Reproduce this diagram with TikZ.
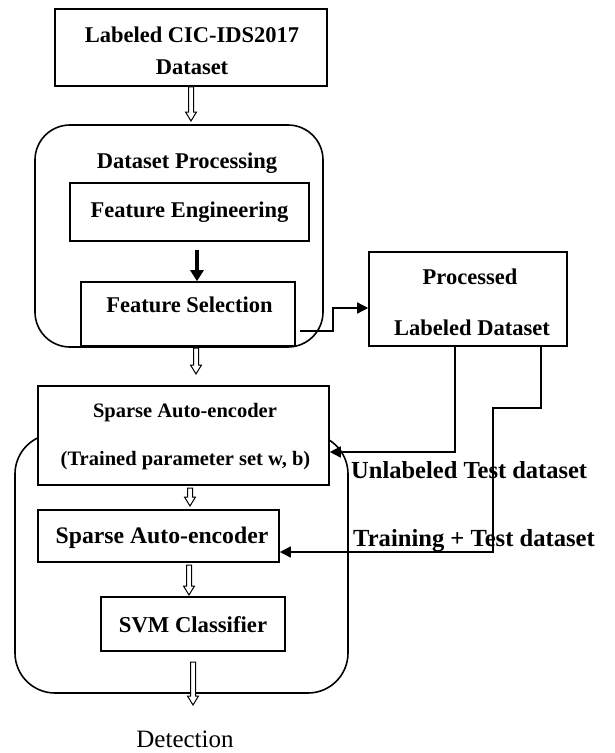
\documentclass[tikz,border=0pt]{standalone}
\usepackage{fontspec}
\setmainfont{Liberation Serif}
\usetikzlibrary{calc,arrows.meta}
\begin{document}
\begin{tikzpicture}[x=1pt,y=-1pt,
  box/.style={draw, line width=1.6pt, fill=white, inner sep=0pt},
  rbox/.style={draw, line width=1.6pt, inner sep=0pt},
  txt/.style={font=\bfseries\fontsize{22.5}{27}\selectfont, inner sep=0pt, anchor=base},
  conn/.style={line width=1.5pt, -{Triangle[length=11pt,width=11pt]}},
  thickarrow/.style={line width=3.5pt, -{Triangle[length=11pt,width=13pt]}},
  hollow/.style={line width=1pt, fill=white, to path={let \p1=(\tikztostart), \p2=(\tikztotarget) in
     (\x1-2.5pt,\y1) -- (\x1-2.5pt,\y2+9pt) -- (\x1-5.5pt,\y2+9pt) -- (\x1,\y2) -- (\x1+5.5pt,\y2+9pt) -- (\x1+2.5pt,\y2+9pt) -- (\x1+2.5pt,\y1) -- cycle}}
]
\useasboundingbox (0,0) rectangle (615,753);

% containers
\node[rbox, rounded corners=35pt, minimum width=288pt, minimum height=222pt] (rb1) at (179,236) {};
\node[rbox, rounded corners=40pt, minimum width=333pt, minimum height=259pt] (rb2) at (181.5,563.5) {};

% boxes
\node[box, minimum width=272pt, minimum height=77pt] (b1) at (191,47.5) {};
\node[box, minimum width=239pt, minimum height=58pt] (fe) at (189.5,212) {};
\node[box, minimum width=214pt, minimum height=64pt] (fs) at (188,314) {};
\node[box, minimum width=198pt, minimum height=94pt] (pr) at (468,299) {};
\node[box, minimum width=291pt, minimum height=99pt] (sp1) at (183.5,435.5) {};
\node[box, minimum width=241pt, minimum height=52pt] (sp2) at (158.5,536) {};
\node[box, minimum width=184pt, minimum height=54pt] (svm) at (193,624) {};

% texts
\node[txt] (t1a) at (192,42.5) {Labeled CIC-IDS2017};
\node[txt] (t1b) at (192,74.5) {Dataset};
\node[txt] (tdp) at (187,168) {Dataset Processing};
\node[txt] (tfe) at (189.5,217.5) {Feature Engineering};
\node[txt] (tfs) at (189.5,312.5) {Feature Selection};
\node[txt] (tpr1) at (470,284.5) {Processed};
\node[txt] (tpr2) at (472,335.5) {Labeled Dataset};
\node[txt, font=\bfseries\fontsize{20.5}{24}\selectfont] (tsp1a) at (185,417) {Sparse Auto-encoder};
\node[txt, font=\bfseries\fontsize{20.5}{24}\selectfont] (tsp1b) at (185.5,465) {(Trained parameter set w, b)};
\node[txt, font=\bfseries\fontsize{23.7}{28}\selectfont] (tsp2) at (162,543) {Sparse Auto-encoder};
\node[txt, font=\bfseries\fontsize{22.7}{27}\selectfont] (tsvm) at (193,632.5) {SVM Classifier};
\node[txt, anchor=base west, font=\bfseries\fontsize{24.5}{29}\selectfont] (tun) at (351,478) {Unlabeled Test dataset};
\node[txt, anchor=base west, font=\bfseries\fontsize{24.6}{29}\selectfont] (ttr) at (353,546) {Training + Test dataset};
\node[txt, font=\fontsize{25}{30}\selectfont] (det) at (185,747) {Detection};

% hollow arrows
\coordinate (a1e) at (191,121);
\coordinate (a2s) at (196,348);
\coordinate (a2e) at (196,374);
\coordinate (a3s) at (190,488);
\coordinate (a3e) at (190,506);
\coordinate (a4s) at (189,565);
\coordinate (a4e) at (189,595);
\coordinate (a5s) at (193,662);
\coordinate (a5e) at (193,705);
\draw[hollow] (b1.south) to (a1e);
\draw[hollow] (a2s) to (a2e);
\draw[hollow] (a3s) to (a3e);
\draw[hollow] (a4s) to (a4e);
\draw[hollow] (a5s) to (a5e);

% thick arrow
\coordinate (ta) at (197,250);
\draw[thickarrow] (ta) -- (ta |- fs.north);

% connectors
\coordinate (c1) at (300,331);
\draw[conn] (c1) -- (333,331) -- (333,308) -- ([yshift=-9pt]pr.west);
\draw[conn] ([xshift=-13pt]pr.south) |- ([yshift=-16.5pt]sp1.east);
\draw[conn] ([xshift=73pt]pr.south) -- ++(0,61) -- ++(-48,0) |- ([yshift=-16pt]sp2.east);
\end{tikzpicture}
\end{document}
